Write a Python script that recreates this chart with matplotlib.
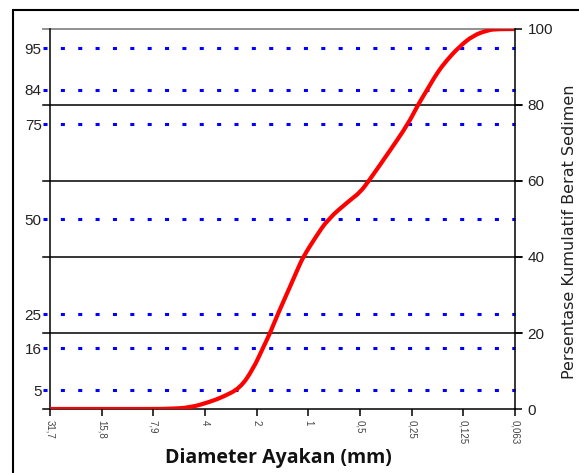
import matplotlib
matplotlib.use("Agg")
import matplotlib.pyplot as plt
from matplotlib.patches import Rectangle, PathPatch
from matplotlib.path import Path

# sieve sizes (mm), evenly spaced on the phi scale
sieve_labels = ["31,7", "15,8", "7,9", "4", "2", "1", "0,5", "0,25", "0,125", "0,063"]

# cumulative curve (position in sieve steps, percent)
curve_pos = [0, 1, 2, 2.3, 2.71, 3.10, 3.35, 3.68, 3.93, 4.12, 4.26, 4.41, 4.64,
             4.80, 4.90, 5.13, 5.38, 5.81, 6.0, 6.17, 6.58, 6.93, 7.12, 7.30,
             7.49, 7.68, 7.92, 8.19, 8.48, 8.65, 9]
curve_pct = [0, 0, 0, 0.05, 0.35, 1.9, 3.2, 5.5, 10.5, 16, 20, 25, 32,
             37, 40, 45, 50, 55, 57, 60, 68, 75, 80, 84,
             88.4, 91.8, 95.3, 98.3, 99.7, 100, 100]

# reference percentiles (left axis) and right axis ticks
pct_marks = [5, 16, 25, 50, 75, 84, 95]
right_ticks = [0, 20, 40, 60, 80, 100]
grid_lines = [20, 40, 60, 80]

plt.rcParams["font.family"] = ["Liberation Sans", "DejaVu Sans"]
plt.rcParams["lines.scale_dashes"] = False


def smooth_path(xs, ys):
    # quadratic b-spline through the read points, drawn by matplotlib's Path
    pts = list(zip(xs, ys))
    verts = [pts[0]]
    codes = [Path.MOVETO]
    for i in range(1, len(pts) - 1):
        nxt = pts[i + 1] if i == len(pts) - 2 else (
            (pts[i][0] + pts[i + 1][0]) / 2, (pts[i][1] + pts[i + 1][1]) / 2)
        verts += [pts[i], nxt]
        codes += [Path.CURVE3, Path.CURVE3]
    return Path(verts, codes)


W, H = 579, 473
fig = plt.figure(figsize=(W / 100, H / 100), dpi=100)
ax = fig.add_axes([50 / W, 1 - 409 / H, 465 / W, 380 / H])
ax.set_xlim(0, 9)
ax.set_ylim(0, 100)

ext = 7 / 465  # tick overhang in axes fraction

# blue dotted percentile lines
for p in pct_marks:
    ax.axhline(p, xmin=-ext, xmax=1, color="#0000ff", lw=2.2,
               linestyle=(0, (2.9, 9.6)), dash_capstyle="butt", clip_on=False, zorder=2)

# black grid lines running through both axes
for g in grid_lines:
    ax.axhline(g, xmin=-ext, xmax=1 + ext, color="black", lw=1.1, clip_on=False, zorder=2)
ax.axhline(100, xmin=-ext, xmax=1, color="#888888", lw=1.3, clip_on=False, zorder=2)
ax.axhline(0, xmin=-ext, xmax=0, color="black", lw=1.1, clip_on=False)

ax.add_patch(PathPatch(smooth_path(curve_pos, curve_pct), fill=False,
                       edgecolor="#ff0000", lw=3, capstyle="round", zorder=3))

ax.set_xticks(range(len(sieve_labels)))
ax.set_xticklabels(sieve_labels, rotation=-90, fontsize=7, color="#444444")
ax.tick_params(axis="x", direction="out", length=5, width=1.1, pad=3)

ax.set_yticks(pct_marks)
ax.set_yticklabels([str(p) for p in pct_marks], fontsize=11, color="#222222")
ax.tick_params(axis="y", length=0, pad=6)

for side in ["left", "bottom"]:
    ax.spines[side].set_linewidth(1.1)
ax.spines["top"].set_visible(False)
ax.spines["right"].set_visible(False)

ax2 = ax.twinx()
ax2.set_ylim(0, 100)
ax2.set_yticks(right_ticks)
ax2.set_yticklabels([str(t) for t in right_ticks], fontsize=11, color="#222222")
ax2.tick_params(axis="y", direction="out", length=5, width=1.1, pad=4)
for side in ["top", "left", "bottom"]:
    ax2.spines[side].set_visible(False)
ax2.spines["right"].set_linewidth(1.1)

fig.text(278 / W, 1 - 458 / H, "Diameter Ayakan (mm)", ha="center", va="center",
         fontsize=14, fontweight="bold", family=["Open Sans", "DejaVu Sans"], color="#111111")
fig.text(570 / W, 1 - 232 / H, "Persentase Kumulatif Berat Sedimen", ha="center",
         va="center", rotation=90, fontsize=11.5, family=["DejaVu Sans"], color="#222222")

fig.patches.append(Rectangle((13 / W, -0.1), 1.2, 1 - 10 / H + 0.1,
                             transform=fig.transFigure, fill=False,
                             edgecolor="black", lw=1.5))

fig.savefig("out.png", dpi=100)
